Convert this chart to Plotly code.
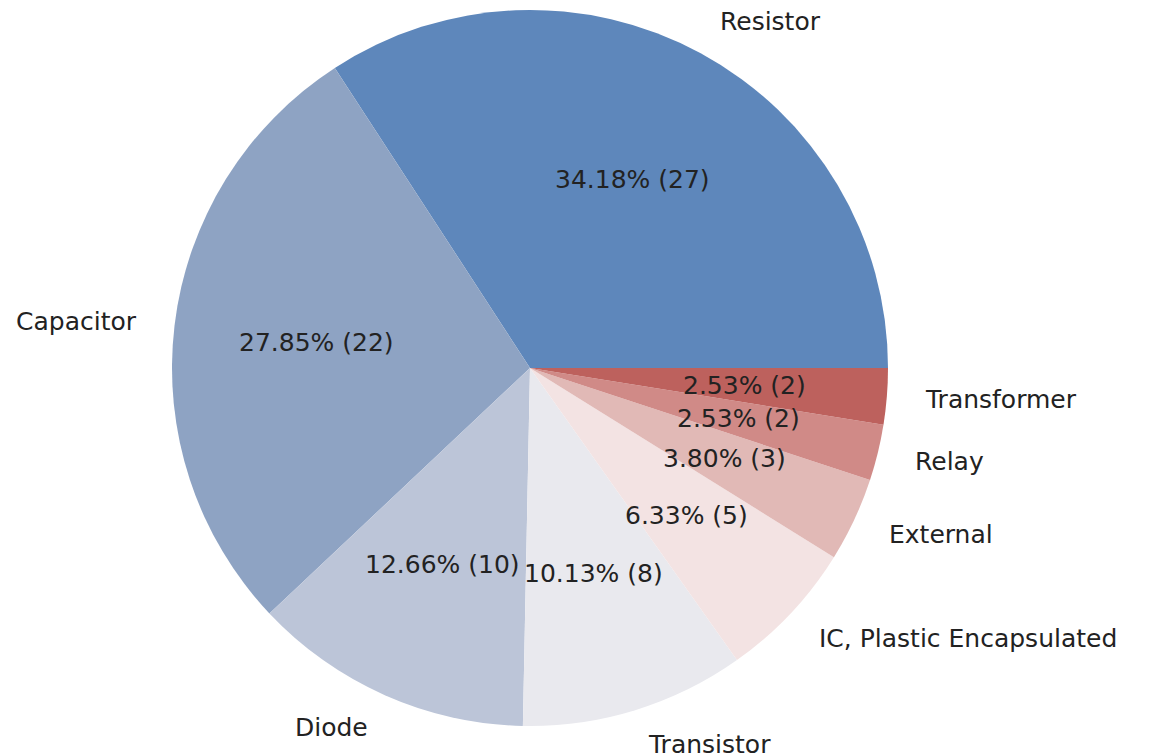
import math
import plotly.graph_objects as go

categories = ["Resistor", "Capacitor", "Diode", "Transistor", "IC, Plastic Encapsulated",
              "External", "Relay", "Transformer"]
counts = [27, 22, 10, 8, 5, 3, 2, 2]
colors = ["#5e87bb", "#8ea3c3", "#bcc5d8", "#e9e9ee", "#f3e3e3", "#e1b9b6", "#d08a87", "#bd615d"]

W, H = 1152, 756
cx, cy, R = 530, 368, 358
FONT = "DejaVu Sans"
FS = 25

total = sum(counts)
# plotly (counterclockwise): first slice's counterclockwise end sits at `rotation`;
# we want the first slice to start at 3 o'clock and go counterclockwise.
rot = 90 - counts[0] / total * 360

fig = go.Figure(go.Pie(
    labels=categories, values=counts, sort=False, direction="counterclockwise",
    rotation=rot, textinfo="none", hoverinfo="label+value+percent",
    marker=dict(colors=colors, line=dict(width=0)),
    domain=dict(x=[(cx - R) / W, (cx + R) / W], y=[1 - (cy + R) / H, 1 - (cy - R) / H]),
    showlegend=False,
))

ann = []
cum = 0
for lab, v in zip(categories, counts):
    mid = (cum + v / 2) / total * 2 * math.pi
    cum += v
    c, s = math.cos(mid), math.sin(mid)
    lx, ly = cx + 1.1 * R * c, cy - 1.1 * R * s
    ann.append(dict(x=lx / W, y=1 - ly / H, xref="paper", yref="paper", text=lab,
                    showarrow=False, xanchor="left" if c > 0 else "right", yanchor="middle",
                    font=dict(family=FONT, size=FS, color="#222222")))
    px, py = cx + 0.6 * R * c, cy - 0.6 * R * s
    ann.append(dict(x=px / W, y=1 - py / H, xref="paper", yref="paper",
                    text=f"{v / total * 100:.2f}% ({v})",
                    showarrow=False, xanchor="center", yanchor="middle",
                    font=dict(family=FONT, size=FS, color="#222222")))

fig.update_layout(width=W, height=H, margin=dict(l=0, r=0, t=0, b=0),
                  paper_bgcolor="white", plot_bgcolor="white", annotations=ann)
fig.write_html("out.html")
